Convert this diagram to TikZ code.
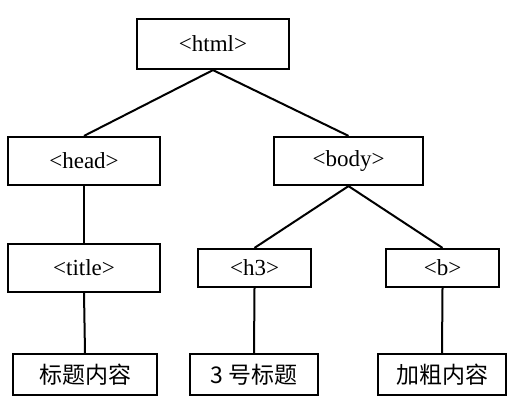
\documentclass[tikz,border=0pt]{standalone}
\usepackage{fontspec}
\setmainfont{Liberation Serif}
\newfontfamily\cjk{Noto Sans CJK SC}

\tikzset{every node/.style={rectangle, draw, line width=2.2pt, font=\fontsize{23}{25}\selectfont, inner sep=0pt}}

\begin{document}
\begin{tikzpicture}[x=1pt, y=-1pt, line width=2pt]
		\useasboundingbox (0,0) rectangle (526,418);
		% Draw the tag nodes
		\node[minimum width=152pt, minimum height=50pt] (html) at (213,44) {<html>};
		\node[minimum width=152pt, minimum height=48pt] (head) at (84,161) {<head>};
		\node[minimum width=149pt, minimum height=48pt] (body) at (348.5,161) {<body>};
		\node[minimum width=152pt, minimum height=48pt] (title) at (84,268) {<title>};
		\node[minimum width=113pt, minimum height=38pt] (h3) at (254.5,268) {<h3>};
		\node[minimum width=113pt, minimum height=38pt] (b) at (442.5,268) {<b>};
		
		% Draw the text nodes
		\node[minimum width=144pt, minimum height=41pt, font=\cjk\fontsize{23}{25}\selectfont] (t1) at (85,374.5) {标题内容};
		\node[minimum width=128pt, minimum height=41pt, font=\cjk\fontsize{23}{25}\selectfont] (t2) at (254,374.5) {3 号标题};
		\node[minimum width=128pt, minimum height=41pt, font=\cjk\fontsize{23}{25}\selectfont] (t3) at (442,374.5) {加粗内容};
		
		% Draw the edges
		\draw (html.south) -- (head.north);
		\draw (html.south) -- (body.north);
		\draw (head.south) -- (title.north);
		\draw (body.south) -- (h3.north);
		\draw (body.south) -- (b.north);
		\draw (title.south) -- (t1.north);
		\draw (h3.south) -- (t2.north);
		\draw (b.south) -- (t3.north);
		
	\end{tikzpicture}
\end{document}
